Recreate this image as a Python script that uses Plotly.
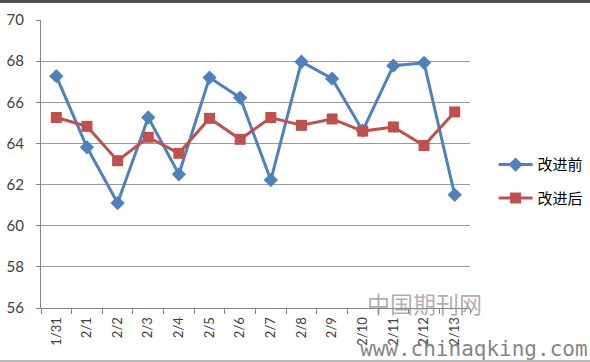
import plotly.graph_objects as go

categories = ["1/31", "2/1", "2/2", "2/3", "2/4", "2/5", "2/6", "2/7",
              "2/8", "2/9", "2/10", "2/11", "2/12", "2/13"]
before = [67.27, 63.81, 61.1, 65.26, 62.5, 67.2, 66.22, 62.22,
          67.97, 67.15, 64.62, 67.78, 67.92, 61.5]
after = [65.26, 64.83, 63.16, 64.3, 63.52, 65.22, 64.2, 65.26,
         64.88, 65.19, 64.6, 64.8, 63.9, 65.53]
y_ticks = [56, 58, 60, 62, 64, 66, 68, 70]

fig = go.Figure()
fig.add_trace(go.Scatter(
    x=categories, y=before, name="改进前", mode="lines+markers", legendgroup="a",
    line=dict(color="#4F81BD", width=3),
    marker=dict(symbol="diamond", size=11, color="#4F81BD"),
))
fig.add_trace(go.Scatter(
    x=categories, y=after, name="改进后", mode="lines+markers", legendgroup="b",
    line=dict(color="#C0504D", width=3),
    marker=dict(symbol="square", size=11, color="#C0504D"),
))

PH = 288.0
fig.update_layout(
    width=590, height=362,
    margin=dict(l=41, r=120, t=20, b=54, autoexpand=False),
    paper_bgcolor="white", plot_bgcolor="white",
    font=dict(family="Lato, 'Noto Sans CJK SC', sans-serif", color="#404040"),
    showlegend=True,
    legend=dict(x=1.055, y=0.44, xanchor="left", yanchor="middle",
                font=dict(size=15, family="'Noto Sans CJK SC', sans-serif", color="#000000"),
                tracegroupgap=11, itemwidth=34, bgcolor="rgba(0,0,0,0)"),
    xaxis=dict(
        type="category", showgrid=False, showline=True, linecolor="#868686", linewidth=1,
        ticks="outside", tickson="boundaries", ticklen=5, tickcolor="#868686",
        tickangle=-90, tickfont=dict(size=13, color="#404040"), ticklabelstandoff=3,
        range=[-0.5, len(categories) - 0.5], automargin=False,
    ),
    yaxis=dict(
        range=[56, 70], tickvals=y_ticks, showgrid=True, gridcolor="#9A9A9A", gridwidth=1,
        showline=True, linecolor="#868686", linewidth=1, zeroline=False,
        ticks="outside", ticklen=4, tickcolor="#868686", ticklabelstandoff=9,
        tickfont=dict(size=15, color="#404040"), automargin=False,
    ),
    shapes=[
        dict(type="line", xref="paper", yref="paper", x0=-0.1, x1=1.3,
             y0=1 + 18.5 / PH, y1=1 + 18.5 / PH, line=dict(color="#505050", width=3)),
        dict(type="line", xref="paper", yref="paper", x0=-0.1, x1=1.3,
             y0=-53 / PH, y1=-53 / PH, line=dict(color="#A0A0A0", width=1.5)),
    ],
    annotations=[
        dict(text="中国期刊网", xref="paper", yref="paper", x=(424 - 41) / 429.0,
             y=(308 - 303) / PH, xanchor="center", yanchor="middle", showarrow=False,
             font=dict(size=23, family="'Noto Sans CJK SC'", color="rgba(140,140,140,0.7)")),
        dict(text="www.chinaqking.com", xref="paper", yref="paper", x=(358 - 41) / 429.0,
             y=-(349 - 308) / PH, xanchor="left", yanchor="middle", showarrow=False,
             font=dict(size=21, family="'DejaVu Sans Mono', monospace", color="rgba(110,110,110,0.85)")),
    ],
)

fig.write_html("out.html", config={"displayModeBar": False},
               post_script="document.body.style.margin='0';document.body.style.padding='0';document.body.style.overflow='hidden';")
